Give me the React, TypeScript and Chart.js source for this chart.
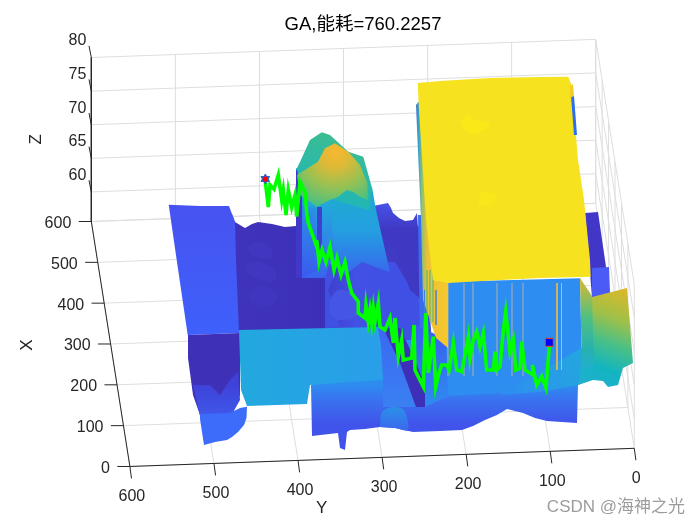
import React, { useEffect, useRef } from "react";
import { Chart, registerables } from "chart.js";

Chart.register(...registerables);

type P = number[];
const titleText = "GA,能耗=760.2257";
const watermark = "CSDN @海神之光";
const xTicks = [0, 100, 200, 300, 400, 500, 600];
const yTicks = [0, 100, 200, 300, 400, 500, 600];
const zTicks = [60, 65, 70, 75, 80];

// View-plane outlines
const rightBack: P[] = [[585,213],[598,212],[610,295],[592,297]];
const rightPatch: P[] = [[592,268],[609,267],[610,293],[592,297]];
const valleyBack: P[] = [[232,214],[235,222],[245,228],[252,224],[258,222],[272,224],[285,227],[296,226],[420,226],[425,335],[238,338]];
const coreFill: P[] = [[325,250],[425,240],[432,345],[430,410],[383,410],[378,327],[325,328]];
const humpBack: P[] = [[368,207],[388,203],[391,208],[393,213],[399,218],[405,221],[413,220],[417,213],[422,290],[380,290]];
const darkUpper: P[] = [[392,228],[420,228],[422,300],[410,290],[400,262]];
const leftSlab: P[] = [[168.7,204.7],[200,206],[229,206],[232,214],[235,222],[236,260],[239,333],[187.7,335],[176.7,260]];
const midBlue: P[] = [[340,262],[395,262],[412,290],[417,330],[383,328],[378,327],[340,328],[328,290]];
const rib1: P[] = [[247,247],[258,242],[272,250],[270,258],[252,256]];
const rib2: P[] = [[244,265],[260,262],[276,272],[272,282],[250,276]];
const rib3: P[] = [[248,292],[262,285],[277,296],[270,306],[250,302]];
const bump: P[] = [[330,298],[340,290],[355,297],[358,315],[340,320],[330,315]];
const blockFoot: P[] = [[418,215],[423,215],[427,300],[430,345],[420,345]];
const sideLower: P[] = [[415,325],[448,340],[448,396],[425,407],[425,385],[415,360]];
const slope: P[] = [[378,327],[395,340],[416,407],[383,407],[383,380]];
const darkStrip: P[] = [[383,328],[400,328],[415,360],[425,385],[425,407],[416,407],[400,363]];
const pitDark: P[] = [[188,335],[240,333],[240,395],[232,415],[200,415],[193,395],[188,358]];
const pitMid: P[] = [[193,385],[210,385],[220,395],[230,380],[238,372],[240,400],[231,416],[200,416]];
const frontLobe: P[] = [[200,414],[230,413],[240,408],[247,406.7],[246.5,418],[244,425],[238,432],[232,437],[227,440],[215,442],[204,445],[200,419]];
const frontBand: P[] = [[311,385],[395,340],[430,340],[578,300],[578,385],[577,423],[547,421],[535,418],[523,413],[507,409],[497,415],[485,420],[473,426],[462,430],[440,431],[413,432],[395,428],[380,427],[365,429],[350,430],[347,432],[345,450],[340,448],[338,433],[312,436]];
const lowBump: P[] = [[380,427],[382,412],[393,407],[404,410],[408,430],[395,428]];
const rightPlate: P[] = [[448,281.7],[580,278.3],[582,370],[578,385],[520,392],[448,396],[446,340]];
const plateSlope: P[] = [[578,350],[592,340],[594,378],[578,385],[540,392],[500,395]];
const rightFan: P[] = [[592,297],[627,288],[633,363],[623,368],[618,385],[608,387],[603,381],[593,380],[578,385]];
const fanLeft: P[] = [[580,278],[592,296],[594,366],[582,372]];
const plateau: P[] = [[239,330],[378,327],[381,345],[383,380],[350,382],[310,385],[307,404],[247,406],[241,390]];
const mtnBase: P[] = [[296,168],[372,187],[376,210],[385,250],[390,272],[378,268],[362,262],[345,275],[330,262],[325,278],[296,278]];
const mtnStripA: P[] = [[296,170],[302,172],[302,278],[296,278]];
const mtnStripB: P[] = [[302,205],[316,208],[318,270],[302,278]];
const mtnStripC: P[] = [[318,208],[330,200],[335,262],[320,270]];
const mtnStripD: P[] = [[317,207],[322,207],[322,250],[317,250]];
const mtnBack: P[] = [[297,168],[300,162],[310,140],[321.7,132.3],[330,135],[348.3,151.7],[363.3,156.7],[371.7,186.7],[369,210],[300,190]];
const mtnDome: P[] = [[297,175],[318,161.7],[325,148.3],[335,143.3],[348.3,151.7],[360,165],[367.3,183.3],[368,200],[360,196.7],[353,191.7],[346.7,190],[338,196.7],[330,200],[316.7,206.7],[300,195]];
const blockSide: P[] = [[416,105],[420,100],[426,200],[433,280],[448,282],[448,348],[436,338],[430,320],[423,300],[421,220]];
const blockTop: P[] = [[417.7,83],[440,81],[490,78],[540,77],[568.3,76.7],[571,84],[572.7,96.7],[578,160],[580,173],[584,200],[590,260],[590.7,276.7],[540,278],[500,280],[448,283],[433,280],[426,220],[419,110]];
const blockEdge: P[] = [[571,96],[574,96],[577,135],[574,135]];
const blockOrange: P[] = [[570,86],[573,84],[574,96],[570,98]];
const glow1: P[] = [[468,115],[476,120],[490,124],[478,133],[468,133],[460,122]];
const glow2: P[] = [[480,192],[497,195],[492,204],[478,205]];

const routePath: P[] = [
  [265,179],[268.3,207],[270,185],[274,189.3],[278.3,175],[281.7,200],[283.3,190],[286,215],[288.3,190],[291.7,207.3],[295,195],[296.7,216.7],[300,181.7],[305,191.7],[306.7,213],[308.3,223],[316.7,246.7],[316.7,240],[319,262],[322,250],[326,262],[330,247],[334,270],[337,258],[341,275],[345,262],[348.3,280],
  [351.7,293],[358.3,301.7],[358.3,313],[365,318],[366,305],[368.3,321.7],[370,310],[371.7,323],[373.3,308],[375,321.7],[378.3,303],[380,326.7],[385,330],[390,318],[393.3,343],[395,318],[398.3,356.7],[401.7,340],[403.3,360],[411.7,358],[414,325],[415,370],[418.3,376.7],[423.3,386.7],[425.7,313],[428.3,373],[433.3,336.7],[435.7,386.7],[439,373],[441.7,365],[446.7,365],[449,370],[453.3,343],[456.7,370],[461.7,371.7],[465,355],[468.3,336.7],[470,358],[473.3,340],[476.7,331.7],[480,346.7],[483.3,333.3],[486.7,370],[493.3,370],[495,351.7],[496.7,370],[500,366.7],[503.3,330],[505.7,311.7],[510,351.7],[513.3,340],[515.7,370],[520,368.3],[521.7,341.7],[525,370],[533.3,375],[532.3,365],[536.7,385],[541.7,376.7],[546,388],[549.3,346.7],
];
const startPoint: P = [265.3, 179];
const goalPoint: P = [549.3, 342.3];
const grayStripes = [448, 464, 473, 497, 512, 523];
const orangeStripes = [557, 561.5];
const sideGreenStripes = [427, 430, 433];
const sideBlueStripes = [424.5, 436];

// linear orthographic view of the axes box
const ZMIN = 55.6;
const proj = (X: number, Y: number, Z: number): P => [
  634.3 - 0.84067 * Y - 0.0643 * X,
  448.3 + 0.0303 * Y - 0.4083 * X - (Z - ZMIN) * 6.72,
];

type Fill = string | { l: number[]; s: [number, string][] } | { r: number[]; s: [number, string][] };

export default function App() {
  const ref = useRef<HTMLCanvasElement>(null);
  useEffect(() => {
    const canvas = ref.current!;
    const ctx = canvas.getContext("2d")!;
    const paint = (f: Fill): any => {
      if (typeof f === "string") return f;
      const g = "l" in f
        ? ctx.createLinearGradient(f.l[0], f.l[1], f.l[2], f.l[3])
        : ctx.createRadialGradient(f.r[0], f.r[1], 0, f.r[0], f.r[1], f.r[2]);
      f.s.forEach(([o, c]) => g.addColorStop(o, c));
      return g;
    };
    const poly = (pts: P[], f: Fill, tension = 0) => ({
      data: pts.map(([x, y]) => ({ x, y })),
      showLine: true, borderWidth: 0, pointRadius: 0, fill: "shape", backgroundColor: paint(f), tension,
    });
    const lines = (segs: P[][], color: string, width: number) => ({
      data: segs.flatMap((s) => [...s.map(([x, y]) => ({ x, y })), { x: NaN, y: NaN }]),
      showLine: true, borderColor: color, borderWidth: width, pointRadius: 0, fill: false, spanGaps: false,
    });
    const marker = (p: P, style: string, r: number, bg: string, bc: string, bw: number, rot = 0) => ({
      data: [{ x: p[0], y: p[1] }], showLine: false, pointStyle: style, pointRadius: r, pointRotation: rot,
      pointBackgroundColor: bg, pointBorderColor: bc, pointBorderWidth: bw,
    });

    const Zmax = 80;
    const gridSegs: P[][] = [
      ...zTicks.concat([ZMIN]).map((z) => [proj(600, 600, z), proj(600, 0, z)]),
      ...zTicks.map((z) => [proj(600, 0, z), proj(0, 0, z)]),
      ...yTicks.map((y) => [proj(600, y, ZMIN), proj(600, y, Zmax)]),
      ...xTicks.map((x) => [proj(x, 0, ZMIN), proj(x, 0, Zmax)]),
      ...xTicks.map((x) => [proj(x, 600, ZMIN), proj(x, 0, ZMIN)]),
      ...yTicks.map((y) => [proj(0, y, ZMIN), proj(600, y, ZMIN)]),
    ];
    const axisSegs: P[][] = [
      [proj(600, 600, Zmax), proj(600, 600, ZMIN), proj(0, 600, ZMIN), proj(0, 0, ZMIN)],
      ...zTicks.map((z) => { const p = proj(600, 600, z); return [p, [p[0] - 2.3, p[1] - 11.7]]; }),
      ...xTicks.map((x) => { const p = proj(x, 600, ZMIN); return [p, [p[0] - 12.6, p[1]]]; }),
      ...yTicks.map((y) => { const p = proj(0, y, ZMIN); return [p, [p[0] + 1.6, p[1] + 12]]; }),
    ];
    const stripes = (xs: number[], y0: number, y1: number) => xs.map((x) => [[x, y0], [x, y1]]);

    const painted: any[] = [
      lines(gridSegs, "#dedede", 1),
      lines(axisSegs, "#262626", 1),
      poly(rightBack, "#4136c8"),
      poly(rightPatch, "#4a5cf5"),
      poly(valleyBack, { l: [240, 0, 420, 0], s: [[0, "#4033bb"], [0.5, "#3d30b8"], [1, "#4140cc"]] }),
      poly(coreFill, "#4050e2"),
      poly(humpBack, { l: [0, 203, 0, 290], s: [[0, "#4653e8"], [0.3, "#4038c4"], [1, "#3f3bc4"]] }),
      poly(rib1, "#4036c0", 0.4),
      poly(rib2, "#4036c0", 0.4),
      poly(rib3, "#4035be", 0.4),
      poly(leftSlab, { l: [0, 205, 0, 335], s: [[0, "#4753f0"], [1, "#3e60fb"]] }),
      poly(frontBand, { l: [0, 385, 0, 425], s: [[0, "#2e8cf0"], [0.4, "#3a70f0"], [1, "#4053ea"]] }),
      poly(midBlue, { l: [326, 0, 410, 0], s: [[0, "#3f3fcc"], [0.35, "#4250e4"], [1, "#4050e4"]] }),
      poly(darkUpper, "#3f38c2"),
      poly(bump, "#4556e6", 0.4),
      poly(blockFoot, "#3a6cf0"),
      poly(sideLower, { l: [0, 330, 0, 400], s: [[0, "#3a60f0"], [1, "#2e88f0"]] }),
      poly(slope, { l: [0, 330, 0, 407], s: [[0, "#3a68f2"], [1, "#3a80f2"]] }),
      poly(darkStrip, "#3d2fb8"),
      poly(pitDark, "#3f30b8"),
      poly(pitMid, { l: [0, 385, 0, 416], s: [[0, "#3f42d8"], [1, "#3f58ea"]] }),
      poly(lowBump, { l: [0, 407, 0, 428], s: [[0, "#2a90e6"], [1, "#3a6cee"]] }, 0.3),
      poly(frontLobe, "#3c6cf9"),
      poly(plateau, { l: [240, 0, 383, 0], s: [[0, "#22a8de"], [1, "#2a9eea"]] }),
      poly(rightPlate, "#2e8df0"),
      poly(plateSlope, { l: [500, 395, 592, 345], s: [[0, "#2e8df0"], [1, "#22aadc"]] }),
      poly(rightFan, { l: [628, 290, 590, 385], s: [[0, "#dcb828"], [0.3, "#a0c048"], [0.55, "#48c088"], [0.8, "#12b4c0"], [1, "#20b0d0"]] }),
      poly(fanLeft, { l: [0, 280, 0, 372], s: [[0, "#d8b830"], [0.4, "#50c080"], [0.75, "#28b0b0"], [1, "#1eb0d0"]] }),
      lines(stripes(grayStripes, 283, 376), "rgba(170,175,170,0.45)", 1),
      lines(stripes(orangeStripes, 283, 370), "#e6b84a", 1),
      poly(mtnBase, { l: [0, 170, 0, 280], s: [[0, "#1cb2c6"], [0.55, "#249fe0"], [1, "#3a60f0"]] }),
      poly(mtnStripB, { l: [0, 205, 0, 275], s: [[0, "#2c90e6"], [1, "#3a5cf0"]] }),
      poly(mtnStripC, { l: [0, 205, 0, 265], s: [[0, "#22a8dc"], [1, "#3a70f0"]] }),
      poly(mtnStripA, "#3f38c8"),
      poly(mtnStripD, "#3f40d0"),
      poly(mtnBack, { l: [330, 132, 310, 200], s: [[0, "#3cbd92"], [1, "#1eb6b8"]] }),
      poly(mtnDome, { r: [335, 152, 58], s: [[0, "#f6b830"], [0.25, "#e0b936"], [0.6, "#98c152"], [1, "#42c088"]] }),
      poly(blockSide, { l: [416, 0, 448, 0], s: [[0, "#4a70c0"], [0.08, "#38a0cc"], [0.18, "#8cc070"], [0.35, "#eec034"], [1, "#f6c82e"]] }),
      lines(stripes(sideGreenStripes, 270, 322), "rgba(90,185,120,0.8)", 1.5),
      lines(stripes(sideBlueStripes, 290, 325), "rgba(60,130,225,0.7)", 1),
      poly(blockTop, "#f6e21f"),
      poly(blockEdge, "#2a70ee"),
      poly(blockOrange, "#efcf24"),
      poly(glow1, "#fbe818", 0.4),
      poly(glow2, "#f9e61b", 0.4),
      {
        data: routePath.map(([x, y]) => ({ x, y })),
        showLine: true, borderColor: "#00ff00", borderWidth: 3.6, pointRadius: 0, fill: false, borderJoinStyle: "miter",
      },
      marker(startPoint, "triangle", 5, "#2a66c8", "#2a66c8", 1),
      marker(startPoint, "triangle", 5, "#2a66c8", "#2a66c8", 1, 180),
      marker(startPoint, "circle", 2.6, "#ff0000", "#ff0000", 0),
      marker(goalPoint, "rect", 5.6, "#0000ff", "#e8401a", 1),
    ];

    const textPlugin = {
      id: "boxText",
      afterDraw(c: any) {
        const g = c.ctx;
        const sx = c.scales.x, sy = c.scales.y;
        const put = (t: string, x: number, y: number, align: CanvasTextAlign, rot = 0) => {
          g.save();
          g.translate(sx.getPixelForValue(x), sy.getPixelForValue(y));
          g.rotate(rot);
          g.textAlign = align;
          g.textBaseline = "middle";
          g.fillText(t, 0, 0);
          g.restore();
        };
        g.save();
        g.fillStyle = "#262626";
        g.font = '16px "Liberation Sans"';
        xTicks.forEach((x) => { const p = proj(x, 600, ZMIN); put(String(x), p[0] - 20, p[1] + 2, "right"); });
        yTicks.forEach((y) => { const p = proj(0, y, ZMIN); put(String(y), p[0] + 2, p[1] + 30.5, "center"); });
        zTicks.forEach((z) => { const p = proj(600, 600, z); put(String(z), p[0] - 5, p[1] - 16.5, "right"); });
        g.font = '17px "Liberation Sans"';
        put("Y", 321.7, 508.5, "center");
        put("X", 27.7, 345, "center", -Math.PI / 2);
        put("Z", 36.7, 139.3, "center", -Math.PI / 2);
        g.font = '17px "Liberation Sans","Noto Sans CJK SC"';
        g.fillStyle = "#9c9c9c";
        put(watermark, 685, 507, "right");
        g.restore();
      },
    };

    const chart = new Chart(canvas, {
      type: "scatter",
      data: { datasets: painted.reverse() },
      plugins: [textPlugin],
      options: {
        responsive: false,
        animation: false,
        layout: { padding: { left: 26 }, autoPadding: false },
        scales: {
          x: { type: "linear", min: 26, max: 700, display: false },
          y: { type: "linear", min: 36, max: 525, reverse: true, display: false },
        },
        plugins: {
          legend: { display: false },
          tooltip: { enabled: false },
          title: {
            display: true, text: titleText, color: "#000000", fullSize: false,
            font: { family: '"Liberation Sans","Noto Sans CJK SC"', size: 18.5, weight: "normal", lineHeight: 1 },
            padding: { top: 16, bottom: 1.5 },
          },
        },
        events: [],
      },
    } as any);
    return () => chart.destroy();
  }, []);
  return (
    <div style={{ position: "absolute", left: 0, top: 0, width: 700, height: 525 }}>
      <canvas ref={ref} width={700} height={525} style={{ display: "block" }} />
    </div>
  );
}
